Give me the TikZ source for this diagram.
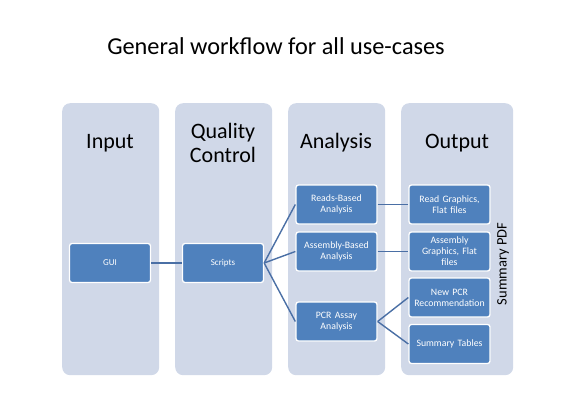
\documentclass[tikz,border=0pt]{standalone}
\usepackage{fontspec}
\setmainfont{Carlito}
\begin{document}
\begin{tikzpicture}[x=1pt,y=-1pt,
  colbox/.style={draw=none,fill=colfill,rounded corners=8pt,minimum width=97pt,minimum height=272pt,inner sep=0pt,anchor=north west},
  hdr/.style={font=\fontsize{22}{24}\selectfont,align=center,text=black},
  bbox/.style={draw=white,line width=1.3pt,fill=boxblue,rounded corners=2.5pt,minimum width=81pt,minimum height=39pt,inner sep=1pt,text width=79pt,align=center,text=white,font=\fontsize{9.8}{11}\selectfont},
  conn/.style={draw=connblue,line width=1.4pt}]
\definecolor{colfill}{HTML}{D0D8E8}
\definecolor{boxblue}{HTML}{4F81BD}
\definecolor{connblue}{HTML}{4A6FA5}
\useasboundingbox (0,0) rectangle (567,401);
\node[font=\fontsize{24.3}{28}\selectfont] (title) at (276,46) {General workflow for all use-cases};
% columns
\node[colbox] (cin) at (62,103) {};
\node[colbox] (cqc) at (175,103) {};
\node[colbox] (can) at (288,103) {};
\node[colbox,minimum width=112pt] (cout) at (401,103) {};
% headers
\node[hdr] (hin) at (110,143) {Input};
\node[hdr] (hqc) at (223,143) {Quality\\Control};
\node[hdr] (han) at (336,143) {Analysis};
\node[hdr] (hout) at (457,143) {Output};
% boxes
\node[bbox,minimum width=80pt,font=\fontsize{9}{10}\selectfont] (gui) at (110,263) {GUI};
\node[bbox,minimum width=80pt,font=\fontsize{9}{10}\selectfont] (scripts) at (223,263) {Scripts};
\node[bbox] (reads) at (336.5,204.5) {Reads-Based\\Analysis};
\node[bbox] (asm) at (336.5,251.5) {Assembly-Based\\Analysis};
\node[bbox] (pcr) at (336.5,321.5) {PCR Assay\\Analysis};
\node[bbox] (readg) at (449.5,204.5) {Read Graphics,\\Flat files};
\node[bbox] (asmg) at (449.5,251.5) {Assembly\\Graphics, Flat\\files};
\node[bbox] (newpcr) at (449.5,297.5) {New PCR\\Recommendation};
\node[bbox] (sumt) at (449.5,344) {Summary Tables};
\node[rotate=90,font=\fontsize{14.5}{17}\selectfont] (pdf) at (503,264) {Summary PDF};
% connectors
\draw[conn] (gui) -- (scripts);
\draw[conn] (scripts.east) -- (reads.west);
\draw[conn] (scripts.east) -- (asm.west);
\draw[conn] (scripts.east) -- (pcr.west);
\draw[conn] (reads) -- (readg);
\draw[conn] (asm) -- (asmg);
\draw[conn] (pcr.east) -- (newpcr.west);
\draw[conn] (pcr.east) -- (sumt.west);
\end{tikzpicture}
\end{document}
